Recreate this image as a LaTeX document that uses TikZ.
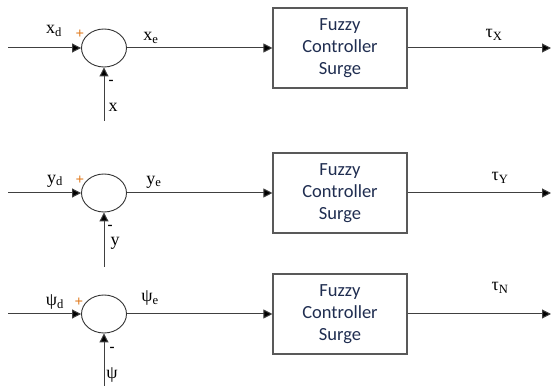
\documentclass[tikz,border=0pt]{standalone}
\usepackage{fontspec}
\setmainfont{Liberation Serif}
\newfontfamily\boxfont{Carlito}
\usetikzlibrary{arrows.meta,shapes.geometric}
\definecolor{boxtext}{HTML}{1F2D50}
\definecolor{plusc}{HTML}{E07B20}
\begin{document}
\begin{tikzpicture}[x=1pt,y=-1pt,
  sumnode/.style={ellipse, draw=black!80, line width=0.9pt, minimum width=45pt, minimum height=38pt, inner sep=0pt},
  ctrlbox/.style={rectangle, draw=black!65, line width=1.1pt, minimum width=134pt, minimum height=80pt, font=\boxfont\fontsize{18.5}{21.7}\selectfont, text=boxtext, align=center},
  sig/.style={draw=black!75, line width=1pt, -{Triangle[length=9pt,width=9pt,fill=black]}},
  lbl/.style={font=\fontsize{18}{20}\selectfont, inner sep=0pt},
  pm/.style={font=\bfseries\fontsize{15}{16}\selectfont, inner sep=0pt}]
\useasboundingbox (0,0) rectangle (552,387);
% row 1
\coordinate (i1) at (8,48);
\node[sumnode] (s1) at (104,48) {};
\coordinate (f1) at (104,121);
\node[ctrlbox] (b1) at (340,48) {Fuzzy\\Controller\\Surge};
\coordinate (o1) at (551,48);
\draw[sig] (i1) -- (s1);
\draw[sig] (f1) -- (s1);
\draw[sig] (s1) -- (b1);
\draw[sig] (b1) -- (o1);
\node[lbl] (l1a) at (54,31) {x\textsubscript{d}};
\node[pm, text=plusc] (p1) at (80,34) {+};
\node[lbl] (l1b) at (151,38) {x\textsubscript{e}};
\node[pm] (m1) at (111,82) {-};
\node[lbl] (l1c) at (113,107) {x};
\node[lbl] (t1) at (494,35) {τ\textsubscript{X}};
% row 2
\coordinate (i2) at (8,193);
\node[sumnode] (s2) at (104,193) {};
\coordinate (f2) at (104,267);
\node[ctrlbox] (b2) at (340,193) {Fuzzy\\Controller\\Surge};
\coordinate (o2) at (551,193);
\draw[sig] (i2) -- (s2);
\draw[sig] (f2) -- (s2);
\draw[sig] (s2) -- (b2);
\draw[sig] (b2) -- (o2);
\node[lbl] (l2a) at (55,181) {y\textsubscript{d}};
\node[pm, text=plusc] (p2) at (80,180) {+};
\node[lbl] (l2b) at (154,182) {y\textsubscript{e}};
\node[pm] (m2) at (110,227) {-};
\node[lbl] (l2c) at (115,243) {y};
\node[lbl] (t2) at (500,178) {τ\textsubscript{Y}};
% row 3
\coordinate (i3) at (8,314);
\node[sumnode] (s3) at (104,314) {};
\coordinate (f3) at (104,386);
\node[ctrlbox] (b3) at (340,314) {Fuzzy\\Controller\\Surge};
\coordinate (o3) at (551,314);
\draw[sig] (i3) -- (s3);
\draw[sig] (f3) -- (s3);
\draw[sig] (s3) -- (b3);
\draw[sig] (b3) -- (o3);
\node[lbl] (l3a) at (55,302) {ψ\textsubscript{d}};
\node[pm, text=plusc] (p3) at (79,302) {+};
\node[lbl] (l3b) at (150,298) {ψ\textsubscript{e}};
\node[pm] (m3) at (112,349) {-};
\node[lbl] (l3c) at (112,375) {ψ};
\node[lbl] (t3) at (500,288) {τ\textsubscript{N}};
\end{tikzpicture}
\end{document}
